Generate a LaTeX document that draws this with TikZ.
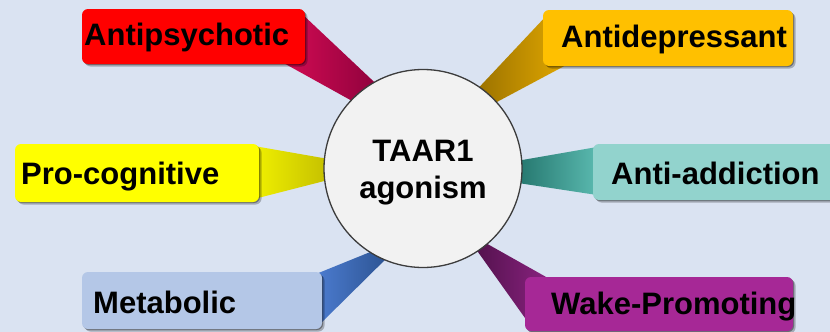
\documentclass[tikz,border=0pt]{standalone}
\usepackage{fontspec}
\setmainfont{Liberation Sans}
\usetikzlibrary{shadows}
\definecolor{bg}{RGB}{218,227,242}
\definecolor{cfill}{RGB}{242,242,242}
\definecolor{cline}{RGB}{60,60,60}
\definecolor{redbox}{RGB}{255,0,0}
\definecolor{goldbox}{RGB}{255,192,0}
\definecolor{yelbox}{RGB}{255,255,0}
\definecolor{tealbox}{RGB}{146,211,205}
\definecolor{bluebox}{RGB}{180,199,231}
\definecolor{purpbox}{RGB}{166,40,150}
\tikzset{
  catbox/.style={rectangle, rounded corners=6pt, inner sep=0pt,
    drop shadow={shadow xshift=2.5pt,shadow yshift=-2.5pt,opacity=.25,fill=black},
    drop shadow={shadow xshift=1pt,shadow yshift=-1pt,opacity=.35,fill=black}},
  lbl/.style={inner sep=0pt, anchor=base west, font=\fontsize{31}{37}\selectfont\bfseries},
  ctext/.style={inner sep=0pt, anchor=base, font=\fontsize{31}{37}\selectfont\bfseries},
}
\begin{document}
\begin{tikzpicture}[x=1pt,y=-1pt]
\fill[bg] (0,0) rectangle (830,332);
\useasboundingbox (0,0) rectangle (830,332);

% wedges
\shade[left color={rgb,255:red,214;green,12;blue,84}, right color={rgb,255:red,135;green,0;blue,58}]
  (301,13) -- (388,95) -- (372,112) -- (280,61) -- cycle;
\shade[left color={rgb,255:red,150;green,110;blue,0}, right color={rgb,255:red,228;green,170;blue,0}]
  (548,14) -- (470,97) -- (480,111) -- (570,63) -- cycle;
\shade[left color={rgb,255:red,240;green,240;blue,0}, right color={rgb,255:red,190;green,184;blue,0}]
  (254,146) -- (340,161) -- (340,177) -- (254,199) -- cycle;
\shade[left color={rgb,255:red,28;green,108;blue,100}, right color={rgb,255:red,90;green,185;blue,175}]
  (597,147) -- (505,163) -- (505,181) -- (597,195) -- cycle;
\shade[left color={rgb,255:red,76;green,124;blue,208}, right color={rgb,255:red,40;green,78;blue,138}]
  (316,274) -- (390,244) -- (397,248) -- (318,326) -- cycle;
\shade[left color={rgb,255:red,78;green,16;blue,72}, right color={rgb,255:red,142;green,36;blue,132}]
  (555,282) -- (475,237) -- (468,238) -- (530,325) -- cycle;

% boxes
\node[catbox, fill=redbox,  minimum width=223pt, minimum height=55pt] (b1) at (193.5,36.5) {};
\node[catbox, fill=goldbox, minimum width=250pt, minimum height=56pt] (b2) at (668,38) {};
\node[catbox, fill=yelbox,  minimum width=244pt, minimum height=58pt] (b3) at (137,173) {};
\node[catbox, fill=tealbox, minimum width=247pt, minimum height=56pt] (b4) at (716.5,172) {};
\node[catbox, fill=bluebox, minimum width=240pt, minimum height=57pt] (b5) at (202,300.5) {};
\node[catbox, fill=purpbox, minimum width=268pt, minimum height=54pt] (b6) at (659,304) {};

% labels
\node[lbl] (l1) at (84,45) {Antipsychotic};
\node[lbl] (l2) at (561,47) {Antidepressant};
\node[lbl] (l3) at (21,184) {Pro-cognitive};
\node[lbl] (l4) at (611,184) {Anti-addiction};
\node[lbl] (l5) at (93,313) {Metabolic};
\node[lbl] (l6) at (551,314) {Wake-Promoting};

% centre
\node[circle, fill=cfill, draw=cline, line width=1.3pt, minimum size=198pt, inner sep=0pt] (c) at (423,168.5) {};
\node[ctext] (t1) at (423,161) {TAAR1};
\node[ctext] (t2) at (423,198) {agonism};
\end{tikzpicture}
\end{document}
